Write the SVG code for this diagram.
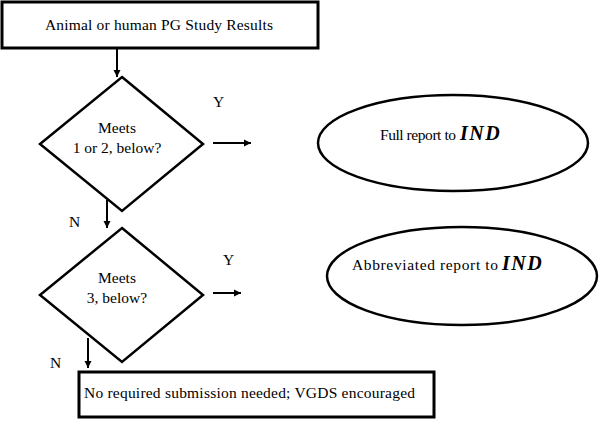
<svg xmlns="http://www.w3.org/2000/svg" width="599" height="421" viewBox="0 0 599 421">
<defs>
<style>
.box{fill:#fff;stroke:#000;stroke-width:3}
.dia{fill:#fff;stroke:#000;stroke-width:2.5}
.ell{fill:#fff;stroke:#000;stroke-width:2.5}
.t{font-family:'Liberation Serif','Times New Roman',serif;font-size:15.5px;fill:#000}
.bi{font-family:'Liberation Serif','Times New Roman',serif;font-weight:bold;font-style:italic;font-size:20px;letter-spacing:1.5px;fill:#000}
.c{stroke:#000;stroke-width:2;fill:none;marker-end:url(#ah)}
</style>
<marker id="ah" markerWidth="8" markerHeight="8" refX="7" refY="4" orient="auto" markerUnits="userSpaceOnUse">
<path d="M0,0.5 L7,4 L0,7.5 Z" fill="#000"/>
</marker>
</defs>
<g id="start">
<rect class="box" x="2" y="2" width="316" height="46"/>
<text class="t" x="45" y="30" textLength="228">Animal or human PG Study Results</text>
</g>
<g id="decision1">
<polygon class="dia" points="122,77 203,144 122,211 40,144"/>
<text class="t" x="117" y="133" text-anchor="middle">Meets</text>
<text class="t" x="117" y="153" text-anchor="middle">1 or 2, below?</text>
</g>
<g id="decision2">
<polygon class="dia" points="122,228 203,295 122,362 40,295"/>
<text class="t" x="117" y="283" text-anchor="middle">Meets</text>
<text class="t" x="117" y="303" text-anchor="middle">3, below?</text>
</g>
<g id="full">
<ellipse class="ell" cx="453" cy="143" rx="135" ry="48"/>
<text class="t" x="380" y="140" textLength="76">Full report to</text>
<text class="bi" x="460" y="140">IND</text>
</g>
<g id="abbrev">
<ellipse class="ell" cx="462" cy="276" rx="135" ry="49"/>
<text class="t" x="352" y="270" textLength="146">Abbreviated report to</text>
<text class="bi" x="502" y="270">IND</text>
</g>
<g id="none">
<rect class="box" x="79" y="372" width="355" height="45"/>
<text class="t" x="84" y="398" textLength="331">No required submission needed; VGDS encouraged</text>
</g>
<g id="connectors">
<line class="c" x1="117" y1="49" x2="117" y2="77"/>
<line class="c" x1="213" y1="143" x2="251" y2="143"/>
<line class="c" x1="107" y1="200" x2="107" y2="228"/>
<line class="c" x1="213" y1="293" x2="241" y2="293"/>
<line class="c" x1="88" y1="338" x2="88" y2="368"/>
<text class="t" x="213" y="107">Y</text>
<text class="t" x="223" y="265">Y</text>
<text class="t" x="69" y="227">N</text>
<text class="t" x="50" y="368">N</text>
</g>
</svg>
